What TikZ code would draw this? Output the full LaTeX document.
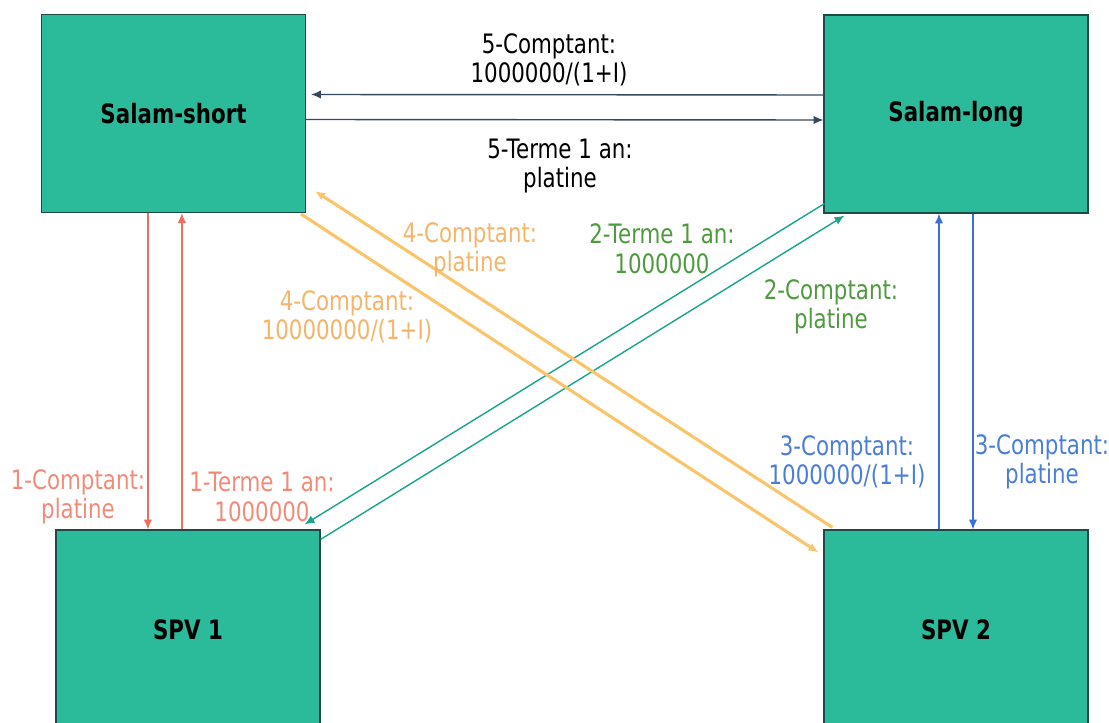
\documentclass[tikz,border=0pt]{standalone}
\usepackage{fontspec}
\setmainfont{DejaVu Sans}[FakeStretch=0.8]
\usepackage{tikz}
\usetikzlibrary{arrows.meta,positioning,calc}

\definecolor{boxfill}{HTML}{2BBB9B}
\definecolor{boxline}{HTML}{1F4A48}
\definecolor{darkarr}{HTML}{34495E}
\definecolor{redarr}{HTML}{F26B5B}
\definecolor{redtxt}{HTML}{F28A78}
\definecolor{orarr}{HTML}{F9C46A}
\definecolor{ortxt}{HTML}{F5B46A}
\definecolor{grarr}{HTML}{18A58C}
\definecolor{grtxt}{HTML}{4E9A3E}
\definecolor{blarr}{HTML}{3A6FD8}
\definecolor{bltxt}{HTML}{4A7ED8}

\begin{document}
\begin{tikzpicture}[x=0.025cm, y=-0.025cm, >={Latex[length=7pt,width=6pt]},
    party/.style={draw=boxline, fill=boxfill, line width=0.8pt, minimum width=6.6cm,
      minimum height=4.95cm, font=\fontsize{19}{22}\selectfont\bfseries},
    lbl/.style={align=center, font=\fontsize{19}{21}\selectfont},
    flow/.style={->, line width=1pt}]
      \useasboundingbox (0,0) rectangle (1109,722);

      \node[party] (ss) at (173.5, 113.5) {Salam-short};
      \node[party] (sl) at (956, 114) {Salam-long};
      \node[party, minimum height=5cm] (p1) at (188, 630) {SPV 1};
      \node[party, minimum height=5cm] (p2) at (956, 630) {SPV 2};

      % 5: between the two salams
      \draw[flow, darkarr] ($(sl.west)+(0,-19)$) -- ($(ss.east)+(5,-19)$);
      \draw[flow, darkarr] ($(ss.east)+(0,6)$) -- ($(sl.west)+(0,6)$);
      \node[lbl] (l5a) at (549, 60) {5-Comptant:\\1000000/(1+I)};
      \node[lbl] (l5b) at (560, 166) {5-Terme 1 an:\\platine};

      % 1: salam-short and spv 1
      \draw[flow, redarr] ([xshift=-0.64cm]ss.south) -- ([xshift=-0.64cm]ss.south |- p1.north);
      \draw[flow, redarr] ([xshift=0.21cm]ss.south |- p1.north) -- ([xshift=0.21cm]ss.south);
      \node[lbl, text=redtxt] (l1a) at (78, 497) {1-Comptant:\\platine};
      \node[lbl, text=redtxt] (l1b) at (262, 497) {1-Terme 1 an:\\1000000};

      % 3: salam-long and spv 2
      \draw[flow, blarr] ([xshift=-0.425cm]sl.south |- p2.north) -- ([xshift=-0.425cm]sl.south);
      \draw[flow, blarr] ([xshift=0.425cm]sl.south) -- ([xshift=0.425cm]sl.south |- p2.north);
      \node[lbl, text=bltxt] (l3a) at (847, 462) {3-Comptant:\\1000000/(1+I)};
      \node[lbl, text=bltxt] (l3b) at (1042, 462) {3-Comptant:\\platine};

      % 2: salam-long and spv 1
      \draw[flow, grarr] ($(sl.south west)+(1,-10)$) -- ($(p1.north east)+(-16,-5)$);
      \draw[flow, grarr] ($(p1.north east)+(0,10)$) -- ($(sl.south west)+(21,2)$);
      \node[lbl, text=grtxt] (l2a) at (662, 249) {2-Terme 1 an:\\1000000};
      \node[lbl, text=grtxt] (l2b) at (831, 307) {2-Comptant:\\platine};

      % 4: salam-short and spv 2
      \draw[flow, orarr, line width=2.2pt] ($(ss.south east)+(-5,1)$) -- ($(p2.north west)+(-5,23)$);
      \draw[flow, orarr, line width=2.2pt] ($(p2.north west)+(9,-2)$) -- ($(ss.south east)+(9,-22)$);
      \node[lbl, text=ortxt] (l4a) at (470, 250) {4-Comptant:\\platine};
      \node[lbl, text=ortxt] (l4b) at (347, 317) {4-Comptant:\\10000000/(1+I)};
    \end{tikzpicture}
\end{document}
